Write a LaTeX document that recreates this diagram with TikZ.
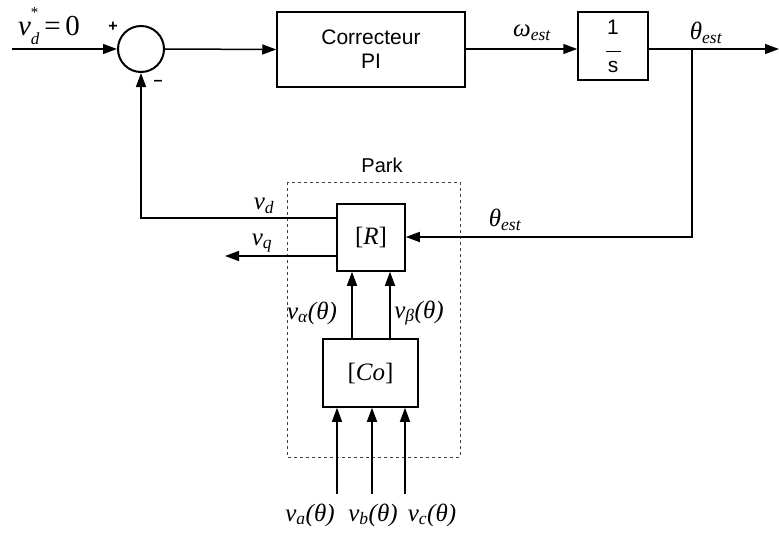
\documentclass[tikz,border=0pt]{standalone}
\usepackage{fontspec}
\setmainfont{Liberation Sans}
\newfontfamily\tms{Liberation Serif}
\usepackage{tikz}
\usetikzlibrary{positioning,arrows.meta,calc}
\newcommand{\ind}[1]{\textsubscript{#1}}
\tikzset{
  bloc/.style={rectangle, draw, line width=1.5pt, align=center, inner sep=0pt,
    font=\fontsize{21}{24}\selectfont},
  somme/.style={circle, draw, line width=2pt, minimum size=46pt, inner sep=0pt},
  cadre/.style={draw=black!75, dashed, line width=0.8pt},
  fleche/.style={-{Triangle[length=14pt,width=10pt]}, line width=1.5pt},
  lbl/.style={font=\tms\itshape\fontsize{25}{28}\selectfont, inner sep=0pt},
  sgn/.style={font=\fontsize{16}{18}\selectfont\bfseries, inner sep=0pt},
}
\begin{document}
\begin{tikzpicture}[x=1pt, y=-1pt]
    \useasboundingbox (0,0) rectangle (779,535);
    % Boucle principale
    \coordinate (entree) at (12,49);
    \node[somme] (sum) at (141,49) {};
    \node[bloc, minimum width=188pt, minimum height=75pt] (corr) at (371,49.5) {Correcteur\\PI};
    \node[bloc, minimum width=70pt, minimum height=68pt] (integ) at (613,46)
      {1\\[-6pt]\rule{15pt}{1.5pt}\\[-4pt]s};
    \coordinate (sortie) at (779,49);
    \coordinate (branche) at (692,49);
    % Bloc Park
    \draw[cadre] (287,182) rectangle (460,457);
    \node[font=\fontsize{20}{23}\selectfont] (park) at (382,165) {Park};
    \node[bloc, minimum width=68pt, minimum height=67pt] (rot) at (371,237.5) {};
    \node[lbl] at (rot) {{\upshape[}R{\upshape]}};
    \node[bloc, minimum width=95pt, minimum height=68pt] (conc) at (370.5,373) {};
    \node[lbl] at (conc) {{\upshape[}Co{\upshape]}};
    % Points de passage
    \coordinate (coin) at (692,237);
    \coordinate (vdcoin) at (141,218);
    \coordinate (vdpt) at (337,218);
    \coordinate (vqpt) at (337,256);
    \coordinate (vqfin) at (225,256);
    \coordinate (xa) at (352,0);
    \coordinate (xb) at (390,0);
    \coordinate (ea) at (337,494);
    \coordinate (eb) at (372,494);
    \coordinate (ec) at (405,494);

    \draw[fleche] (entree) -- (sum.west);
    \draw[fleche] (sum.east) -- (corr.west);
    \draw[fleche] (corr.east |- sum) -- (integ.west |- sum);
    \draw[fleche] (integ.east |- sum) -- (sortie);
    \draw[fleche] (branche) -- (coin) -- (rot.east |- coin);
    \draw[fleche] (vdpt) -- (vdcoin) -- (sum.south);
    \draw[fleche] (vqpt) -- (vqfin);
    \draw[fleche] (conc.north -| xa) -- (rot.south -| xa);
    \draw[fleche] (conc.north -| xb) -- (rot.south -| xb);
    \draw[fleche] (ea) -- (conc.south -| ea);
    \draw[fleche] (eb) -- (conc.south -| eb);
    \draw[fleche] (ec) -- (conc.south -| ec);

    % Etiquettes
    \node[lbl, font=\tms\itshape\fontsize{29}{30}\selectfont] (ref) at (49,26)
      {v\rlap{\raisebox{0.62em}{\fontsize{15}{15}\selectfont\upshape *}}\raisebox{-0.3em}{\fontsize{17}{17}\selectfont d}\,{\upshape =\,0}};
    \node[sgn] (plus) at (113,27) {+};
    \node[sgn] (moins) at (158,83) {--};
    \node[lbl] (west) at (532,33) {ω\ind{est}};
    \node[lbl] (thest) at (706,33) {θ\ind{est}};
    \node[lbl] (thest2) at (505,220) {θ\ind{est}};
    \node[lbl] (vd) at (264,206) {v\ind{d}};
    \node[lbl] (vq) at (262,243) {v\ind{q}};
    \node[lbl] (valpha) at (312,313) {v\ind{α}(θ)};
    \node[lbl] (vbeta) at (419,313) {v\ind{β}(θ)};
    \node[lbl] (va) at (310,515) {v\ind{a}(θ)};
    \node[lbl] (vb) at (373,515) {v\ind{b}(θ)};
    \node[lbl] (vc) at (432,515) {v\ind{c}(θ)};
  \end{tikzpicture}
\end{document}
